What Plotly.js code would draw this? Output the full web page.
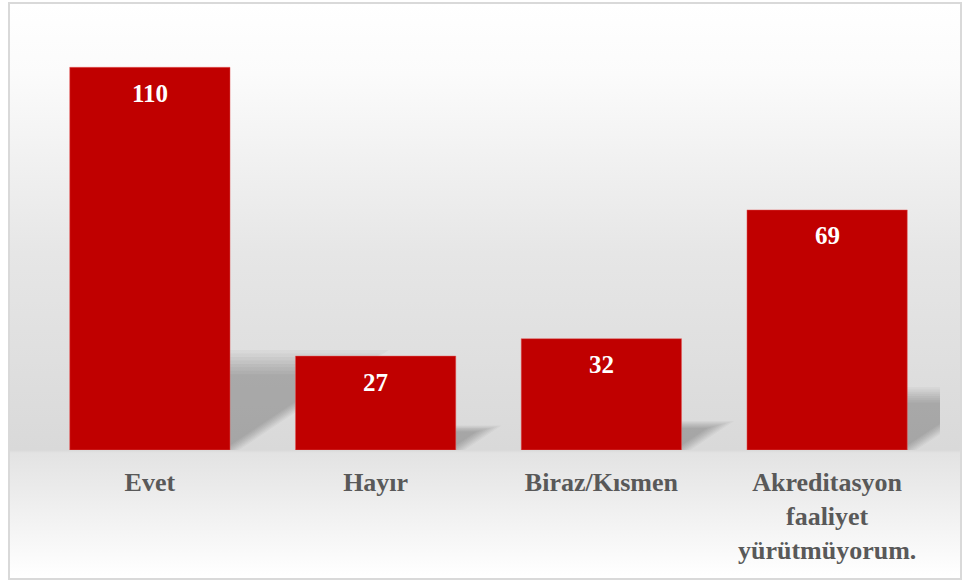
<!DOCTYPE html>
<html>
<head>
<meta charset="utf-8">
<script src="https://cdn.plot.ly/plotly-3.0.1.min.js"></script>
<style>
  html, body { margin: 0; padding: 0; width: 962px; height: 580px; overflow: hidden; background: #ffffff; }
  #bg {
    position: absolute; left: 8px; top: 2px; width: 950px; height: 574px;
    border: 2px solid #d9d9d9;
    background: linear-gradient(to bottom, #ffffff 0px, #fbfbfb 70px, #e6e6e6 250px, #d9d9d9 446px, #e3e3e3 449px, #f3f3f3 520px, #ffffff 572px);
  }
  #chart { position: absolute; left: 0; top: 0; width: 962px; height: 580px; }
</style>
</head>
<body>
<div id="bg"></div>
<div id="chart"></div>
<script>
// Data
const categories = ["Evet", "Hayır", "Biraz/Kısmen", "Akreditasyon<br>faaliyet<br>yürütmüyorum."];
const values = [110, 27, 32, 69];

const xs = categories.map((c, i) => i);
const barGap = 0.29;
const barW = 1 - barGap;

// Soft perspective shadows derived from bar values
const shapes = [];
const grows = [0.16, 0.12, 0.08, 0.04, 0.0, -0.04, -0.08, -0.12];
values.forEach((v, i) => {
  const s = 0.225 * v;         // shadow height (y units)
  const d = s * 0.0231;        // shadow shift (x units)
  grows.forEach(g => {
    const xl = i - barW / 2;
    const xr = i + barW / 2 + g * 0.25;
    const sh = s * (1 + g);
    const dd = d * (1 + g);
    shapes.push({
      type: 'path', xref: 'x', yref: 'y', layer: 'below',
      path: `M ${xl},0 L ${xr},0 L ${xr + dd},${sh} L ${xl + dd},${sh} Z`,
      fillcolor: 'rgba(0,0,0,0.03)',
      line: {width: 0}
    });
  });
});

const annotations = values.map((v, i) => ({
  x: xs[i], y: v, xref: 'x', yref: 'y',
  text: String(v), showarrow: false,
  yanchor: 'middle', yshift: -26,
  font: {family: 'Liberation Serif, Times New Roman, serif', size: 25, color: '#ffffff', weight: 'bold'}
}));

const trace = {
  type: 'bar',
  x: xs,
  y: values,
  marker: {color: '#C00000', line: {color: 'rgba(230,90,90,0.6)', width: 0.8}},
  hoverinfo: 'none'
};

const layout = {
  width: 962, height: 580,
  margin: {l: 37, r: 22, t: 20, b: 130},
  paper_bgcolor: 'rgba(0,0,0,0)',
  plot_bgcolor: 'rgba(0,0,0,0)',
  bargap: barGap,
  showlegend: false,
  xaxis: {
    type: 'linear',
    range: [-0.5, 3.5],
    tickvals: xs,
    ticktext: categories,
    showgrid: false, zeroline: false, showline: false,
    ticks: '',
    ticklabelstandoff: 14,
    tickfont: {family: 'Liberation Serif, Times New Roman, serif', size: 26, color: '#595959', weight: 'bold'}
  },
  yaxis: {
    range: [0, 123.6],
    visible: false, showgrid: false, zeroline: false
  },
  shapes: shapes,
  annotations: annotations
};

Plotly.newPlot('chart', [trace], layout, {displayModeBar: false, staticPlot: true});
</script>
</body>
</html>
